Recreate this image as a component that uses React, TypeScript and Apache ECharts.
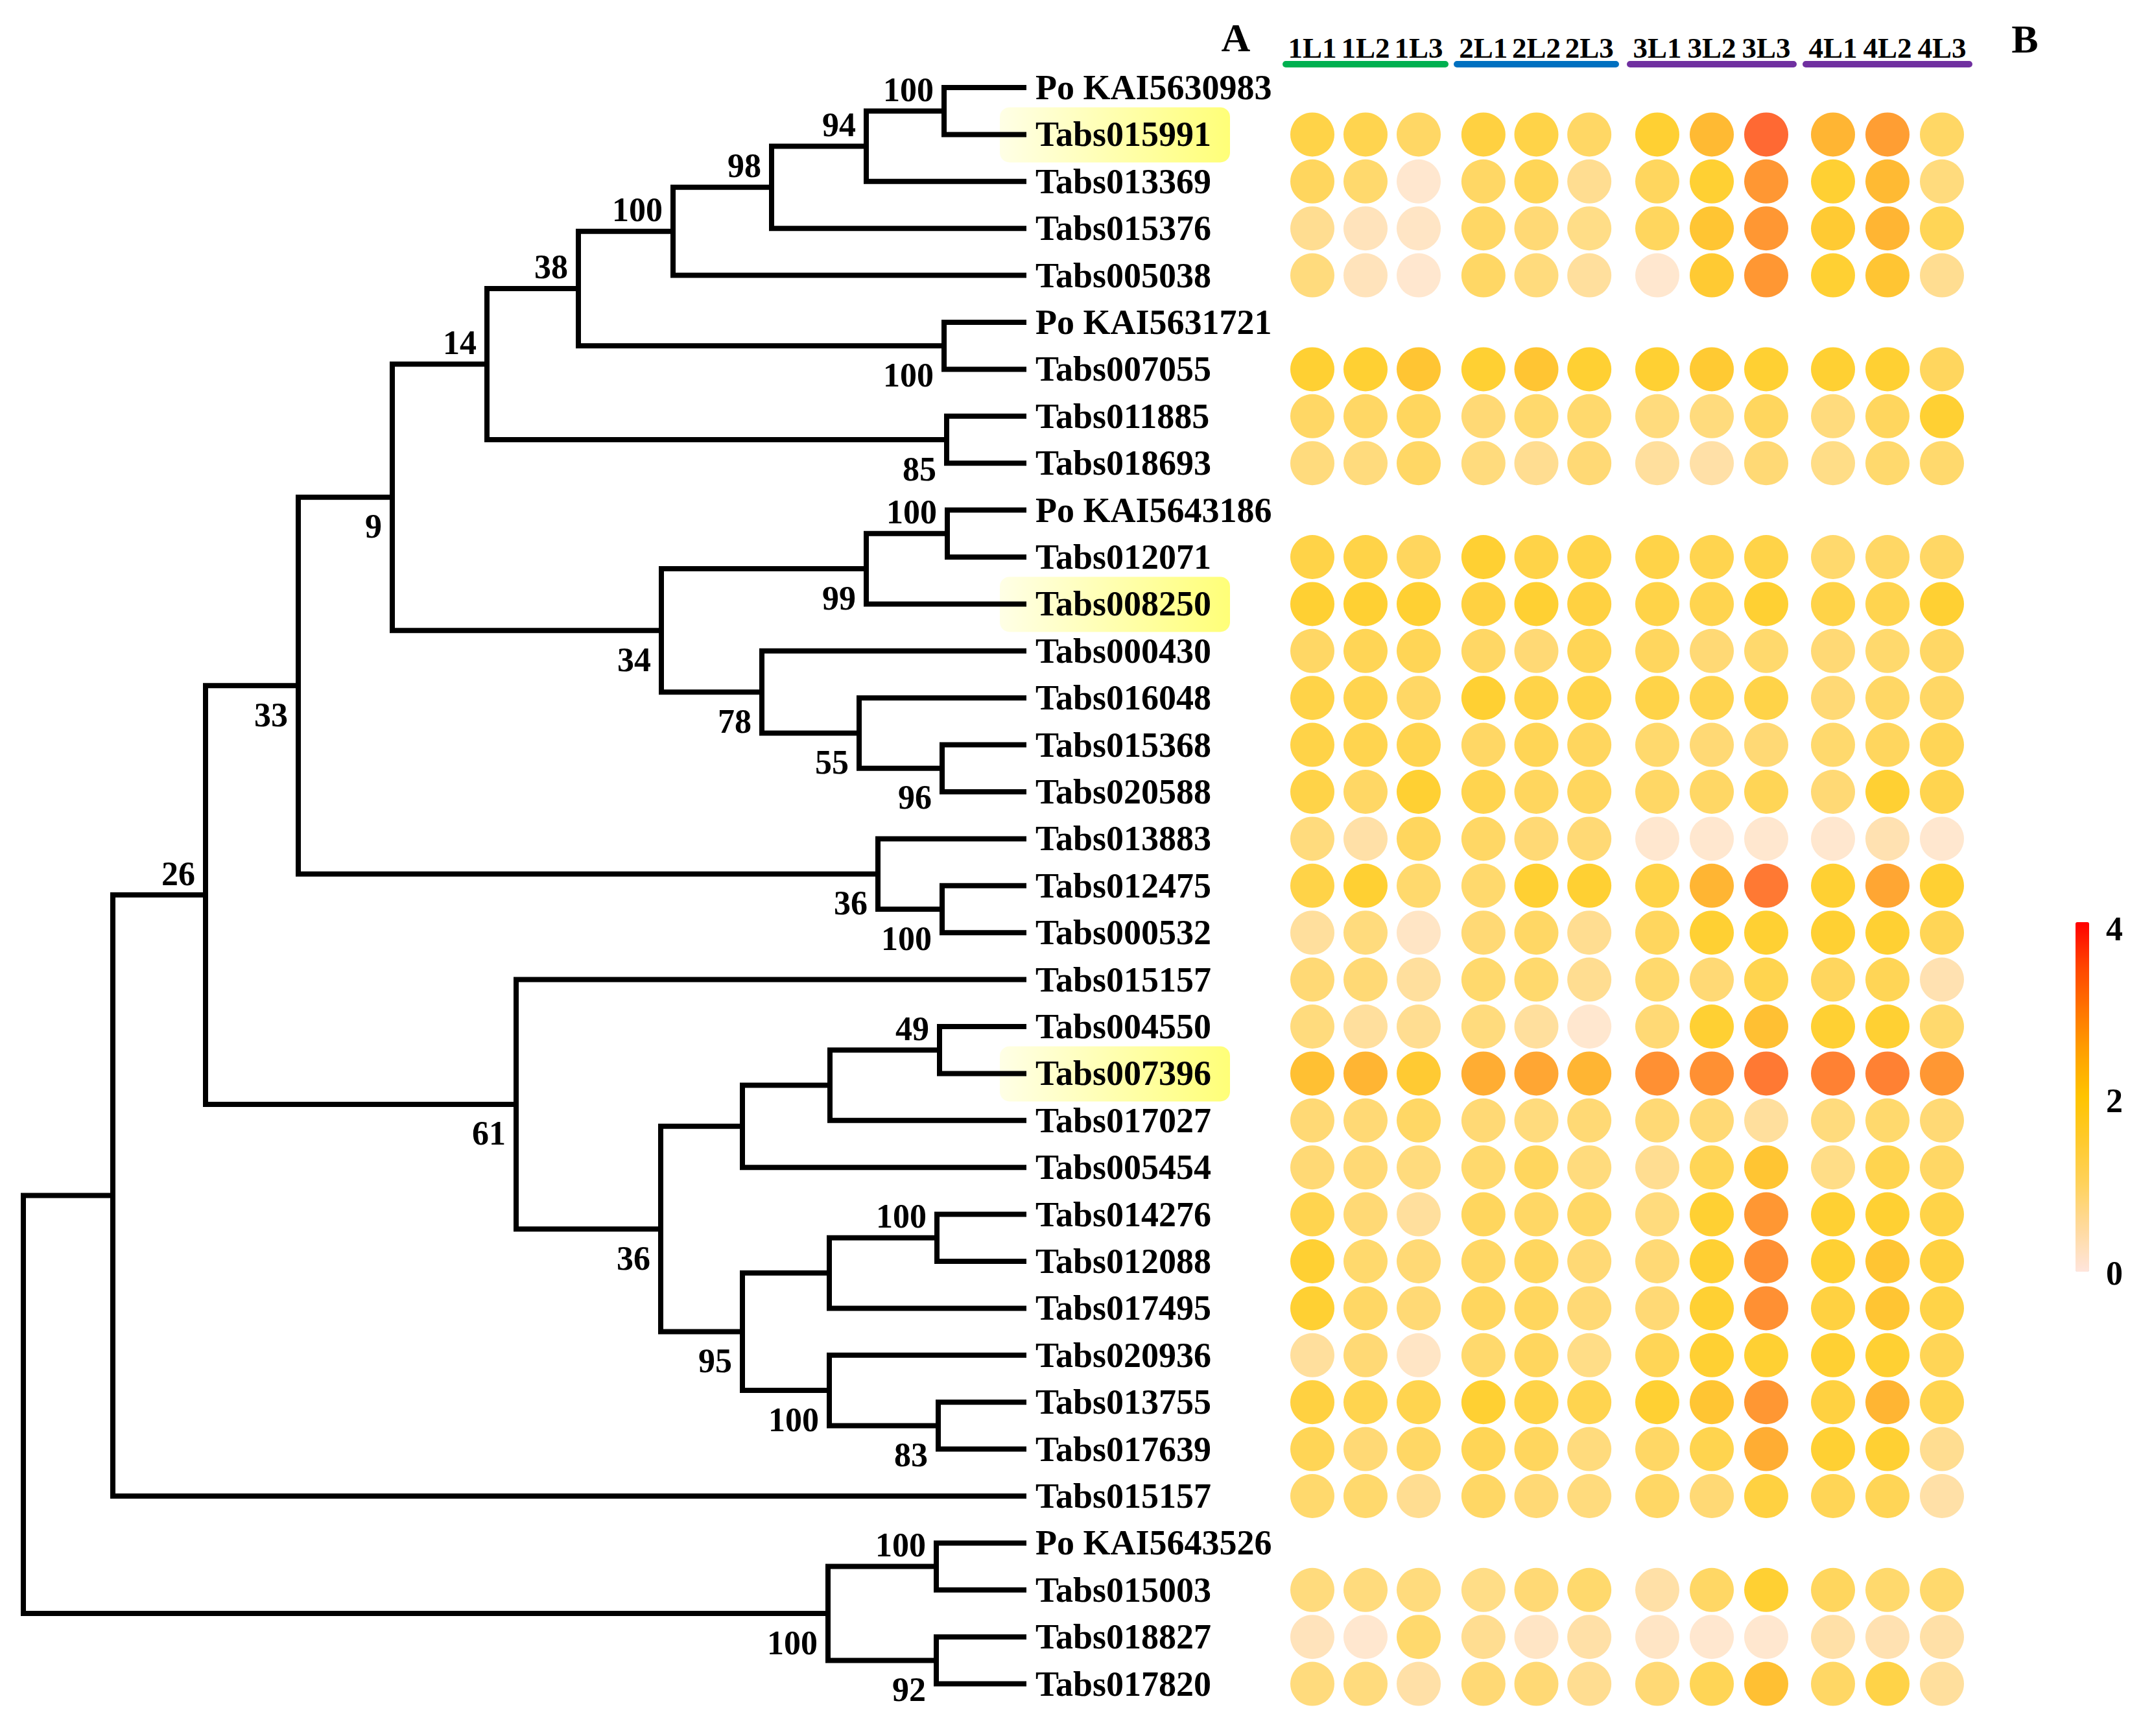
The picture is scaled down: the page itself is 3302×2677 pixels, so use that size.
import React, { useEffect, useRef } from 'react';
import * as echarts from 'echarts';

const FONT = '"Liberation Serif", "DejaVu Serif", serif';

// ---- leaves (top to bottom) ----
const leafNames = [
  'Po KAI5630983', 'Tabs015991', 'Tabs013369', 'Tabs015376', 'Tabs005038',
  'Po KAI5631721', 'Tabs007055', 'Tabs011885', 'Tabs018693', 'Po KAI5643186',
  'Tabs012071', 'Tabs008250', 'Tabs000430', 'Tabs016048', 'Tabs015368',
  'Tabs020588', 'Tabs013883', 'Tabs012475', 'Tabs000532', 'Tabs015157',
  'Tabs004550', 'Tabs007396', 'Tabs017027', 'Tabs005454', 'Tabs014276',
  'Tabs012088', 'Tabs017495', 'Tabs020936', 'Tabs013755', 'Tabs017639',
  'Tabs015157', 'Po KAI5643526', 'Tabs015003', 'Tabs018827', 'Tabs017820',
];
const highlightedLeaves = [1, 11, 21];

// ---- tree: [id, depth, child A, child B, bootstrap, label side] (number child = leaf row) ----
const tipDepth = 1547;
const treeNodes: [string, number, number | string, number | string, number | null, string | null][] = [
  ['J', 1420, 0, 1, 100, 'up'],
  ['I', 1300, 'J', 2, 94, 'up'],
  ['H', 1154, 'I', 3, 98, 'up'],
  ['G', 1002, 'H', 4, 100, 'up'],
  ['n5', 1420, 5, 6, 100, 'down'],
  ['F', 856, 'G', 'n5', 38, 'up'],
  ['n7', 1424, 7, 8, 85, 'down'],
  ['E', 715, 'F', 'n7', 14, 'up'],
  ['L', 1425, 9, 10, 100, 'up'],
  ['K', 1300, 'L', 11, 99, 'down'],
  ['O', 1417, 14, 15, 96, 'down'],
  ['N', 1289, 13, 'O', 55, 'down'],
  ['M', 1139, 12, 'N', 78, 'down'],
  ['K2', 984, 'K', 'M', 34, 'down'],
  ['D', 569, 'E', 'K2', 9, 'down'],
  ['P', 1417, 17, 18, 100, 'down'],
  ['n16', 1318, 16, 'P', 36, 'down'],
  ['C', 424, 'D', 'n16', 33, 'down'],
  ['X', 1413, 20, 21, 49, 'up'],
  ['W', 1244, 'X', 22, null, null],
  ['R', 1109, 'W', 23, null, null],
  ['Z', 1409, 24, 25, 100, 'up'],
  ['Y', 1243, 'Z', 26, null, null],
  ['AB', 1411, 28, 29, 83, 'down'],
  ['AA', 1243, 27, 'AB', 100, 'down'],
  ['S', 1109, 'Y', 'AA', 95, 'down'],
  ['Q', 983, 'R', 'S', 36, 'down'],
  ['n61', 760, 19, 'Q', 61, 'down'],
  ['B', 281, 'C', 'n61', 26, 'up'],
  ['A', 138, 'B', 30, null, null],
  ['U', 1408, 31, 32, 100, 'up'],
  ['V', 1408, 33, 34, 92, 'down'],
  ['T', 1241, 'U', 'V', 100, 'down'],
  ['root', 0, 'A', 'T', null, null],
];

// ---- expression (log values), one array per stage group; null = no data ----
const groupLabels = [
  ['1L1', '1L2', '1L3'],
  ['2L1', '2L2', '2L3'],
  ['3L1', '3L2', '3L3'],
  ['4L1', '4L2', '4L3'],
];
const groupColors = ['#00B050', '#0070C0', '#7030A0', '#7030A0'];

const stage1 = [
  null, [1.7, 1.6, 1.3], [1.4, 1.2, 0.2], [0.8, 0.4, 0.3], [1.0, 0.4, 0.2],
  null, [2.0, 2.0, 2.2], [1.3, 1.3, 1.4], [1.0, 1.0, 1.3], null,
  [1.7, 1.7, 1.4], [2.0, 2.0, 2.0], [1.3, 1.5, 1.5], [1.7, 1.6, 1.3], [1.7, 1.6, 1.6],
  [1.7, 1.3, 2.0], [1.0, 0.6, 1.4], [1.7, 2.0, 1.2], [0.7, 1.0, 0.3], [1.1, 1.1, 0.7],
  [1.0, 0.7, 0.8], [2.3, 2.5, 2.1], [1.1, 1.1, 1.3], [1.1, 1.1, 1.0], [1.6, 1.1, 0.7],
  [2.0, 1.2, 1.1], [2.0, 1.3, 1.1], [0.7, 1.1, 0.3], [1.8, 1.6, 1.6], [1.5, 1.1, 1.3],
  [1.2, 1.2, 0.8], null, [1.0, 1.0, 1.0], [0.4, 0.2, 1.2], [1.0, 1.0, 0.6],
];
const stage2 = [
  null, [1.8, 1.7, 1.3], [1.3, 1.5, 0.8], [1.3, 1.1, 0.9], [1.3, 1.0, 0.7],
  null, [2.0, 2.2, 2.0], [1.1, 1.2, 1.2], [1.0, 0.8, 1.1], null,
  [2.0, 1.7, 1.7], [1.8, 2.0, 1.8], [1.3, 1.1, 1.5], [2.0, 1.7, 1.7], [1.3, 1.5, 1.4],
  [1.6, 1.4, 1.4], [1.3, 1.1, 1.1], [1.2, 2.0, 2.0], [1.1, 1.3, 0.8], [1.2, 1.2, 0.8],
  [1.0, 0.7, 0.2], [2.6, 2.7, 2.5], [1.1, 1.0, 1.1], [1.2, 1.4, 1.0], [1.4, 1.3, 1.3],
  [1.3, 1.4, 1.1], [1.4, 1.4, 1.1], [1.2, 1.4, 0.9], [2.0, 1.7, 1.6], [1.5, 1.4, 1.0],
  [1.3, 1.1, 1.0], null, [0.9, 1.1, 1.2], [0.8, 0.3, 0.6], [1.1, 1.1, 0.8],
];
const stage3 = [
  null, [2.0, 2.4, 3.5], [1.4, 2.0, 2.9], [1.4, 2.2, 2.9], [0.2, 2.1, 2.9],
  null, [2.0, 2.1, 2.0], [1.0, 1.0, 1.4], [0.7, 0.6, 1.1], null,
  [1.7, 1.6, 1.7], [1.7, 1.6, 2.0], [1.4, 1.1, 1.2], [1.7, 1.6, 1.7], [1.2, 1.1, 1.1],
  [1.3, 1.3, 1.5], [0.2, 0.2, 0.2], [1.7, 2.5, 3.3], [1.4, 2.0, 2.0], [1.2, 1.1, 1.6],
  [1.1, 2.0, 2.3], [3.0, 3.0, 3.3], [1.1, 1.1, 0.7], [0.8, 1.5, 2.2], [1.0, 2.0, 2.9],
  [1.1, 2.0, 3.0], [1.1, 2.0, 3.0], [1.5, 2.0, 2.0], [2.0, 2.2, 2.9], [1.3, 1.6, 2.6],
  [1.3, 1.1, 1.8], null, [0.6, 1.3, 2.0], [0.3, 0.2, 0.2], [1.1, 1.5, 2.3],
];
const stage4 = [
  null, [2.5, 2.8, 1.3], [2.0, 2.4, 1.0], [2.1, 2.5, 1.5], [2.0, 2.2, 0.8],
  null, [2.0, 2.0, 1.4], [1.0, 1.4, 2.0], [0.9, 1.2, 1.2], null,
  [1.2, 1.3, 1.3], [1.7, 1.6, 2.0], [1.1, 1.2, 1.3], [1.1, 1.3, 1.3], [1.2, 1.4, 1.5],
  [1.1, 2.0, 1.6], [0.2, 0.5, 0.2], [2.0, 2.7, 2.0], [2.0, 2.0, 1.5], [1.4, 1.5, 0.5],
  [2.0, 2.0, 1.2], [3.2, 3.2, 2.9], [1.0, 1.2, 1.1], [0.9, 1.6, 1.3], [2.0, 2.0, 1.7],
  [2.0, 2.2, 1.8], [1.8, 2.2, 1.7], [2.0, 2.0, 1.5], [1.8, 2.5, 1.6], [2.0, 2.0, 0.8],
  [1.5, 1.5, 0.6], null, [1.4, 1.2, 1.2], [0.6, 0.5, 0.6], [1.3, 1.7, 0.7],
];
const stages = [stage1, stage2, stage3, stage4];

// ---- colour scale ----
const scaleMin = 0;
const scaleMax = 4;
const scaleTicks = 2;
const scaleColors = ['#FFE5DC', '#FFDA9E', '#FFD25C', '#FFCA2C', '#FFC400', '#FFA200', '#FF7400', '#FF4400', '#FF0000'];

// ---- layout ----
const ROW_TOP = 98.8;
const ROW_H = 72.4;
const GRID_H = ROW_H * leafNames.length;
const heatLefts = [1983, 2247, 2514, 2785];
const heatWidths = [246, 245, 252, 252];

export default function App() {
  const ref = useRef<HTMLDivElement>(null);

  useEffect(() => {
    const chart = echarts.init(ref.current!, null, { renderer: 'svg' });

    const nodeMap: Record<string, any> = {};
    treeNodes.forEach((n) => (nodeMap[n[0]] = n));
    const yCache: Record<string, number> = {};
    const yOf = (c: number | string): number => {
      if (typeof c === 'number') return c;
      if (yCache[c] !== undefined) return yCache[c];
      const n = nodeMap[c];
      const v = (yOf(n[2]) + yOf(n[3])) / 2;
      yCache[c] = v;
      return v;
    };
    const xOf = (c: number | string): number => (typeof c === 'number' ? tipDepth : nodeMap[c][1]);

    const branches = treeNodes.map((n) => {
      const [, d, a, b] = n;
      return {
        coords: [
          [xOf(a), yOf(a)],
          [d, yOf(a)],
          [d, yOf(b)],
          [xOf(b), yOf(b)],
        ],
      };
    });
    const supports = treeNodes
      .filter((n) => n[4] !== null)
      .map((n) => [n[1], yOf(n[0]), n[4], n[5] === 'up' ? 1 : 0]);

    const grids: any[] = [
      { left: 36, top: ROW_TOP, width: tipDepth, height: GRID_H },
      ...heatLefts.map((l, i) => ({ left: l, top: ROW_TOP, width: heatWidths[i], height: GRID_H })),
      { left: 3201, top: 1432, width: 21, height: 531 },
    ];

    const xAxes: any[] = [
      { type: 'value', gridIndex: 0, min: 0, max: tipDepth, show: false },
      ...groupLabels.map((labels, g) => ({
        type: 'category',
        gridIndex: g + 1,
        position: 'top',
        data: labels,
        axisLine: { show: true, lineStyle: { color: groupColors[g], width: 10 } },
        axisTick: { show: false },
        splitLine: { show: false },
        axisLabel: { fontFamily: FONT, fontWeight: 'bold', fontSize: 45, color: '#000', margin: 2, interval: 0 },
      })),
      { type: 'value', gridIndex: 5, show: false, min: 0, max: 1 },
    ];

    const yAxes: any[] = [
      { type: 'value', gridIndex: 0, min: -0.5, max: leafNames.length - 0.5, inverse: true, show: false },
      {
        type: 'category',
        gridIndex: 0,
        position: 'right',
        inverse: true,
        data: leafNames,
        axisLine: { show: false },
        axisTick: { show: false },
        splitLine: { show: false },
        axisLabel: { fontFamily: FONT, fontWeight: 'bold', fontSize: 54, color: '#000', margin: 14, interval: 0 },
      },
      ...groupLabels.map((_, g) => ({
        type: 'category',
        gridIndex: g + 1,
        inverse: true,
        data: leafNames.map((_n, i) => String(i)),
        show: false,
      })),
      {
        type: 'value',
        gridIndex: 5,
        position: 'right',
        min: scaleMin,
        max: scaleMax,
        interval: scaleTicks,
        axisLine: { show: false },
        axisTick: { show: false },
        splitLine: { show: false },
        axisLabel: { fontFamily: FONT, fontWeight: 'bold', fontSize: 52, color: '#000', margin: 26 },
      },
    ];

    const heatSeries = stages.map((st, g) => ({
      type: 'scatter',
      xAxisIndex: g + 1,
      yAxisIndex: g + 2,
      symbol: 'circle',
      symbolSize: 68,
      silent: true,
      data: st.flatMap((row, i) => (row ? row.map((v, j) => [j, i, v]) : [])),
    }));

    const series: any[] = [
      {
        type: 'custom',
        xAxisIndex: 0,
        yAxisIndex: 0,
        z: -5,
        clip: false,
        silent: true,
        data: highlightedLeaves.map((r) => [tipDepth, r]),
        renderItem: (_p: any, api: any) => {
          const pt = api.coord([api.value(0), api.value(1)]);
          return {
            type: 'rect',
            shape: { x: pt[0] - 41, y: pt[1] - 42, width: 355, height: 85, r: 15 },
            style: {
              fill: new echarts.graphic.LinearGradient(0, 0, 1, 0, [
                { offset: 0, color: '#FFFFE6' },
                { offset: 1, color: '#FFFF78' },
              ]),
            },
          };
        },
      },
      {
        type: 'lines',
        coordinateSystem: 'cartesian2d',
        xAxisIndex: 0,
        yAxisIndex: 0,
        polyline: true,
        silent: true,
        z: 3,
        lineStyle: { color: '#000', width: 8, opacity: 1, join: 'miter', cap: 'butt' },
        data: branches,
      },
      {
        type: 'custom',
        xAxisIndex: 0,
        yAxisIndex: 0,
        clip: false,
        silent: true,
        z: 4,
        data: supports,
        renderItem: (_p: any, api: any) => {
          const pt = api.coord([api.value(0), api.value(1)]);
          const up = api.value(3) === 1;
          return {
            type: 'text',
            x: pt[0] - 16,
            y: pt[1] + (up ? -33 : 45),
            style: {
              text: String(api.value(2)),
              fontFamily: FONT,
              fontWeight: 'bold',
              fontSize: 52,
              fill: '#000',
              align: 'right',
              verticalAlign: 'middle',
            },
          };
        },
      },
      ...heatSeries,
      { type: 'scatter', xAxisIndex: 5, yAxisIndex: 6, data: [], silent: true },
    ];

    chart.setOption({
      animation: false,
      backgroundColor: '#fff',
      grid: grids,
      xAxis: xAxes,
      yAxis: yAxes,
      visualMap: {
        type: 'continuous',
        min: scaleMin,
        max: scaleMax,
        dimension: 2,
        seriesIndex: [3, 4, 5, 6],
        calculable: false,
        hoverLink: false,
        orient: 'vertical',
        left: 3201,
        top: 1422,
        itemWidth: 21,
        itemHeight: 539,
        padding: 0,
        inRange: { color: scaleColors },
      },
      graphic: [
        {
          type: 'text',
          x: 1906,
          y: 58,
          style: {
            text: 'A', fontFamily: FONT, fontWeight: 'bold', fontSize: 62, fill: '#000',
            align: 'center', verticalAlign: 'middle', textAlign: 'center', textVerticalAlign: 'middle',
          },
        },
        {
          type: 'text',
          x: 3123,
          y: 60,
          style: {
            text: 'B', fontFamily: FONT, fontWeight: 'bold', fontSize: 62, fill: '#000',
            align: 'center', verticalAlign: 'middle', textAlign: 'center', textVerticalAlign: 'middle',
          },
        },
      ],
      series,
    });

    return () => chart.dispose();
  }, []);

  return (
    <div
      ref={ref}
      style={{ position: 'absolute', left: 0, top: 0, width: 3302, height: 2677, background: '#fff' }}
    />
  );
}
